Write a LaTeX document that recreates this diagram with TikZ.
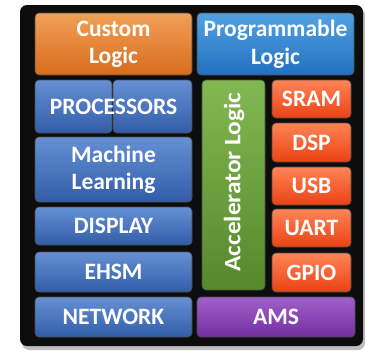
\documentclass[tikz,border=0pt]{standalone}
\usepackage{fontspec}
\setmainfont{Carlito}
\usetikzlibrary{shapes}
\usetikzlibrary{backgrounds,positioning,fit}

\definecolor{custtop}{HTML}{F0A058}
\definecolor{custbot}{HTML}{D86C1C}
\definecolor{progtop}{HTML}{52A2E2}
\definecolor{progbot}{HTML}{2270C0}
\definecolor{leftop}{HTML}{6690D4}
\definecolor{lefbot}{HTML}{325CA6}
\definecolor{acctop}{HTML}{82B852}
\definecolor{accbot}{HTML}{56882C}
\definecolor{iotop}{HTML}{FF8456}
\definecolor{iobot}{HTML}{EA4214}
\definecolor{amstop}{HTML}{A060CA}
\definecolor{amsbot}{HTML}{742EA0}

\begin{document}
\begin{tikzpicture}
      [x=1pt, y=-1pt,
       blk/.style={rectangle, rounded corners=4pt, inner sep=0pt, align=center,
                   text=white, draw=black!70, line width=0.6pt,
                   font=\bfseries\fontsize{23.5}{27.5}\selectfont},
       cust/.style={blk, top color=custtop, bottom color=custbot},
       prog/.style={blk, top color=progtop, bottom color=progbot},
       lef/.style={blk, top color=leftop, bottom color=lefbot},
       acc/.style={blk, top color=acctop, bottom color=accbot},
       io/.style={blk, top color=iotop, bottom color=iobot},
       ams/.style={blk, top color=amstop, bottom color=amsbot}]
      \useasboundingbox (0,0) rectangle (366,354);
      \fill [black!25, rounded corners=7pt] (22,8) rectangle (365,350);
      \fill [black!95, rounded corners=7pt] (20,5) rectangle (363,346);

      \node [cust, minimum width=157, minimum height=62, text depth=3pt] (custom) at (113.5,44) {Custom\\Logic};
      \node [prog, minimum width=157, minimum height=62, text depth=3pt] (progr)  at (275.5,44) {Programmable\\Logic};

      \node [lef, minimum width=77, minimum height=53] (proca) at ( 73.5,106.5) {};
      \node [lef, minimum width=79, minimum height=53] (procb) at (152.5,106.5) {};
      \node [blk, draw=none] (proc) at (113.5,106.5) {PROCESSORS};
      \node [lef, minimum width=157, minimum height=65] (ml)      at (113.5,169.5) {Machine\\Learning};
      \node [lef, minimum width=157, minimum height=38] (display) at (113.5,226)   {DISPLAY};
      \node [lef, minimum width=157, minimum height=40] (ehsm)    at (113.5,272)   {EHSM};
      \node [lef, minimum width=157, minimum height=40] (network) at (113.5,317)   {NETWORK};

      \node [acc, minimum width=63, minimum height=210] (accel) at (233.5,185) {};
      \node [rotate=90, xscale=1.08, inner sep=0pt, text=white,
             font=\bfseries\fontsize{23.5}{27.5}\selectfont] (accl) at (234,182) {Accelerator Logic};

      \node [io, minimum width=79, minimum height=38] (sram) at (311.5, 99)   {SRAM};
      \node [io, minimum width=79, minimum height=39] (dsp)  at (311.5,142.5) {DSP};
      \node [io, minimum width=79, minimum height=38] (usb)  at (311.5,186)   {USB};
      \node [io, minimum width=79, minimum height=38] (uart) at (311.5,228)   {UART};
      \node [io, minimum width=79, minimum height=39] (gpio) at (311.5,272.5) {GPIO};

      \node [ams, minimum width=158, minimum height=40] (amsb) at (276,317) {AMS};
    \end{tikzpicture}
\end{document}
